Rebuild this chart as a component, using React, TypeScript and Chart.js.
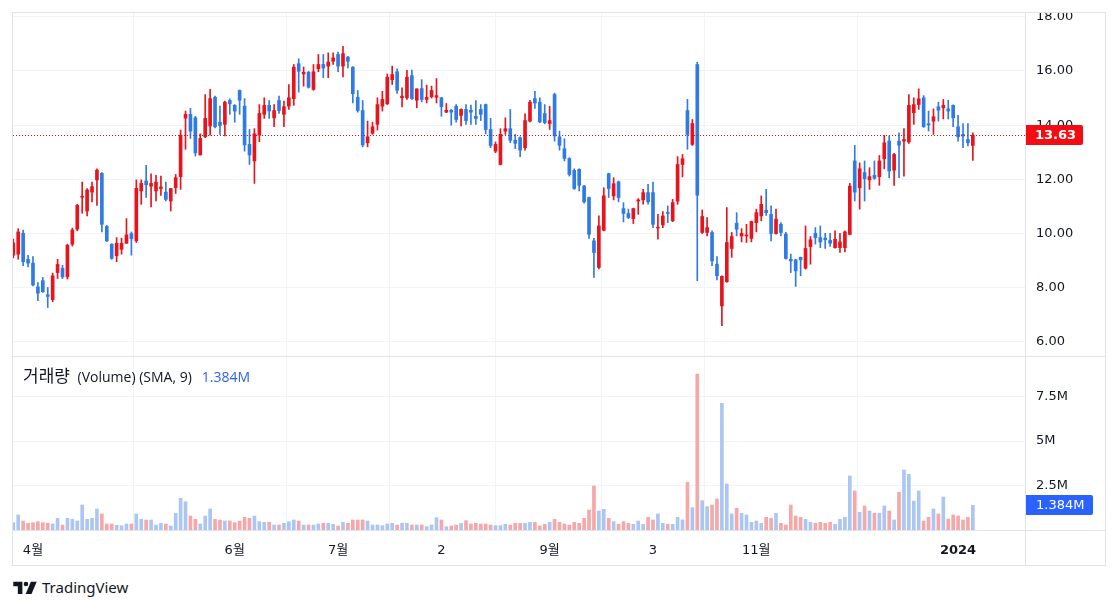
import React, { useEffect, useRef } from 'react';
import { Chart, registerables } from 'chart.js';

Chart.register(...registerables);

// ---- Data (daily candles) ----
const opens = [
  9.20, 9.24, 10.01, 9.05, 8.91, 8.03, 8.26, 7.74, 7.56, 8.56,
  8.72, 8.40, 9.61, 10.16, 11.34, 10.83, 11.53, 11.98, 12.22, 10.26,
  9.61, 9.18, 9.42, 9.64, 10.00, 9.73, 11.57, 11.94, 11.75, 11.57,
  11.66, 11.53, 11.20, 11.69, 12.10, 14.26, 14.40, 14.27, 12.90, 13.57,
  13.97, 15.03, 14.11, 14.03, 14.91, 14.73, 15.28, 14.70, 13.29, 12.68,
  13.63, 14.40, 14.73, 14.27, 14.91, 14.40, 14.70, 14.98, 16.27, 15.89,
  15.95, 15.32, 16.08, 16.24, 16.18, 16.36, 16.61, 16.18, 16.51, 16.14,
  15.03, 14.54, 13.35, 13.70, 14.03, 14.70, 14.79, 15.68, 15.97, 15.01,
  15.01, 15.83, 14.92, 15.35, 14.95, 15.05, 15.03, 15.01, 14.48, 14.55,
  14.70, 14.36, 14.58, 14.55, 14.33, 14.58, 14.76, 13.84, 13.04, 12.55,
  13.78, 13.87, 13.44, 13.54, 13.17, 14.15, 14.98, 14.85, 14.43, 14.06,
  15.13, 13.57, 13.13, 12.77, 12.33, 12.37, 11.75, 11.33, 9.73, 8.75,
  10.12, 12.21, 11.39, 11.91, 10.92, 10.74, 10.55, 11.20, 11.24, 11.51,
  11.51, 10.20, 10.32, 10.77, 10.47, 11.20, 12.55, 14.54, 13.29, 16.24,
  10.04, 10.04, 10.04, 8.87, 7.33, 8.22, 9.45, 10.38, 9.91, 9.91,
  9.82, 10.40, 10.65, 10.86, 10.71, 10.00, 10.34, 9.98, 9.05, 9.03,
  9.12, 8.72, 9.52, 10.01, 9.85, 9.83, 9.75, 9.48, 9.48, 9.48,
  9.97, 12.68, 11.69, 12.25, 11.98, 12.15, 12.10, 12.76, 13.41, 12.34,
  13.41, 13.41, 13.38, 14.46, 14.76, 15.01, 14.05, 14.15, 14.68, 14.64,
  14.60, 14.73, 13.94, 13.66, 13.47, 13.25,
];
const highs = [
  9.80, 10.18, 10.13, 9.20, 9.15, 8.19, 8.38, 8.01, 8.54, 9.05,
  8.83, 9.61, 10.20, 11.08, 11.90, 11.66, 11.90, 12.39, 12.25, 10.30,
  9.62, 9.85, 9.83, 10.55, 10.06, 11.98, 11.98, 12.52, 12.20, 12.15,
  12.12, 11.90, 11.66, 12.18, 13.82, 14.52, 14.62, 14.33, 13.68, 15.13,
  15.32, 15.07, 14.70, 14.89, 14.97, 14.76, 15.30, 14.98, 13.84, 13.87,
  14.76, 15.01, 14.91, 14.76, 15.07, 14.89, 15.50, 16.24, 16.45, 16.15,
  15.99, 16.24, 16.61, 16.61, 16.67, 16.67, 16.70, 16.91, 16.54, 16.16,
  15.28, 14.91, 14.15, 14.11, 15.01, 15.25, 15.89, 16.18, 16.08, 15.38,
  16.02, 16.03, 15.34, 15.68, 15.48, 15.44, 15.72, 15.03, 14.80, 14.58,
  14.76, 14.60, 14.76, 14.74, 14.91, 14.76, 14.78, 14.25, 13.38, 13.87,
  14.27, 14.58, 13.66, 13.57, 14.42, 14.92, 15.25, 15.01, 14.76, 14.70,
  15.18, 13.78, 13.50, 12.80, 12.39, 12.39, 11.78, 11.35, 9.82, 10.65,
  11.69, 12.23, 12.06, 11.94, 11.14, 10.90, 10.94, 11.29, 11.63, 11.82,
  11.90, 10.71, 10.81, 11.02, 11.26, 12.84, 12.92, 14.95, 14.21, 16.32,
  10.87, 10.59, 10.10, 9.15, 8.44, 10.96, 10.04, 10.77, 10.18, 10.34,
  10.46, 10.90, 11.39, 11.63, 11.02, 10.90, 10.40, 10.04, 9.24, 9.05,
  9.13, 10.28, 9.89, 10.22, 10.28, 10.01, 10.01, 10.10, 10.01, 10.10,
  11.85, 13.25, 12.61, 12.68, 12.43, 12.68, 12.88, 13.62, 13.60, 12.96,
  13.72, 13.87, 15.13, 15.01, 15.34, 15.09, 14.52, 14.60, 14.85, 14.95,
  14.92, 14.75, 14.36, 14.06, 14.06, 13.72,
];
const lows = [
  9.10, 9.05, 8.81, 8.77, 8.07, 7.52, 7.83, 7.27, 7.48, 8.34,
  8.34, 8.32, 9.54, 10.10, 10.75, 10.65, 11.17, 11.04, 10.06, 9.70,
  9.05, 8.96, 9.24, 9.64, 9.20, 9.67, 11.08, 11.33, 10.98, 11.20,
  11.41, 11.20, 10.83, 11.48, 11.63, 13.11, 13.51, 12.86, 12.90, 13.54,
  13.63, 13.90, 13.66, 13.60, 14.40, 14.11, 14.40, 13.04, 12.55, 11.85,
  13.39, 14.25, 14.25, 13.94, 14.43, 13.94, 14.58, 14.73, 15.22, 15.44,
  15.37, 15.29, 15.97, 15.75, 15.75, 16.24, 15.97, 15.78, 16.11, 14.82,
  14.48, 13.20, 13.20, 13.66, 13.82, 14.52, 14.76, 15.50, 15.17, 14.67,
  14.95, 14.95, 14.64, 14.86, 14.82, 15.00, 14.82, 14.33, 14.46, 14.00,
  14.11, 13.97, 14.03, 14.03, 14.03, 14.17, 13.68, 13.17, 12.98, 12.53,
  13.66, 13.35, 13.13, 12.84, 13.08, 14.12, 14.62, 14.09, 14.05, 13.84,
  13.41, 13.08, 12.68, 12.12, 11.63, 11.57, 11.12, 9.82, 8.38, 8.69,
  10.10, 11.33, 11.24, 11.17, 10.43, 10.55, 10.37, 10.71, 11.08, 11.08,
  10.22, 9.79, 10.22, 10.40, 10.44, 11.08, 12.09, 13.11, 13.25, 8.26,
  10.00, 9.91, 8.81, 8.29, 6.60, 8.20, 9.12, 9.91, 9.69, 9.67,
  9.69, 10.06, 10.47, 10.67, 9.73, 9.98, 9.91, 9.05, 8.56, 8.05,
  8.44, 8.69, 8.87, 9.61, 9.48, 9.45, 9.52, 9.46, 9.30, 9.32,
  9.95, 11.20, 10.90, 11.20, 11.63, 12.00, 11.78, 12.39, 12.06, 11.78,
  12.06, 12.12, 13.33, 14.03, 14.58, 13.92, 13.78, 13.66, 14.15, 14.23,
  14.23, 13.94, 13.41, 13.17, 13.23, 12.70,
];
const closes = [
  9.65, 10.06, 8.96, 8.91, 8.10, 7.80, 7.85, 7.68, 8.44, 8.86,
  8.40, 9.57, 10.13, 11.04, 11.36, 11.61, 11.73, 12.34, 10.34, 9.73,
  9.08, 9.64, 9.64, 9.95, 9.81, 11.67, 11.85, 11.80, 11.85, 11.90,
  11.72, 11.26, 11.66, 12.06, 13.63, 14.40, 13.78, 12.98, 13.51, 14.25,
  14.98, 13.94, 13.99, 14.85, 14.79, 14.52, 14.92, 13.27, 12.90, 13.68,
  14.43, 14.73, 14.52, 14.54, 14.54, 14.68, 15.01, 16.14, 15.99, 15.95,
  15.40, 15.97, 16.24, 16.11, 16.33, 16.48, 16.18, 16.64, 16.36, 15.16,
  14.54, 13.27, 13.57, 13.94, 14.76, 14.95, 15.77, 15.87, 15.29, 15.07,
  15.77, 14.98, 15.34, 14.95, 15.03, 15.28, 15.09, 14.68, 14.55, 14.48,
  14.21, 14.58, 14.17, 14.48, 14.25, 14.40, 13.84, 13.25, 13.29, 13.66,
  13.87, 13.44, 13.33, 13.08, 14.17, 14.85, 14.82, 14.12, 14.09, 14.17,
  13.60, 13.26, 12.77, 12.18, 11.66, 11.78, 11.17, 9.97, 9.30, 10.28,
  11.39, 11.66, 11.84, 11.33, 10.74, 10.59, 10.92, 11.24, 11.51, 11.17,
  10.34, 10.22, 10.65, 10.74, 11.14, 12.55, 12.76, 13.66, 14.06, 11.42,
  10.63, 10.22, 8.99, 8.44, 8.42, 9.67, 9.89, 10.16, 10.01, 9.94,
  10.44, 10.77, 11.08, 10.77, 10.00, 10.53, 10.04, 9.08, 8.99, 8.62,
  9.03, 9.45, 9.77, 9.85, 9.69, 9.77, 9.64, 9.79, 9.69, 10.06,
  11.75, 11.53, 12.39, 12.02, 12.10, 12.04, 12.68, 13.35, 12.31, 12.92,
  13.26, 13.47, 14.73, 14.76, 14.97, 13.94, 14.01, 14.31, 14.55, 14.73,
  14.52, 14.27, 13.57, 13.60, 13.35, 13.63,
];
// volume in thousands of shares
const volumesK = [
  412, 843, 506, 375, 412, 468, 412, 375, 337, 656,
  281, 656, 599, 506, 1405, 599, 656, 1180, 899, 337,
  337, 262, 243, 337, 337, 899, 599, 562, 562, 281,
  375, 337, 225, 937, 1779, 1592, 787, 599, 337, 787,
  1180, 599, 562, 506, 506, 412, 506, 712, 656, 787,
  468, 431, 431, 281, 281, 375, 468, 562, 506, 281,
  281, 281, 337, 375, 375, 318, 225, 431, 375, 562,
  562, 562, 506, 281, 281, 243, 337, 375, 281, 375,
  375, 281, 281, 281, 187, 281, 693, 562, 187, 225,
  281, 375, 524, 337, 375, 337, 337, 281, 243, 243,
  318, 281, 375, 375, 375, 431, 431, 225, 318, 431,
  599, 431, 337, 281, 431, 375, 656, 1124, 2472, 1068,
  1161, 656, 468, 318, 468, 375, 318, 506, 318, 712,
  562, 899, 375, 318, 318, 712, 562, 2678, 1255, 8766,
  1648, 1311, 1405, 1742, 7117, 2585, 899, 1217, 937, 843,
  431, 506, 375, 712, 656, 937, 375, 281, 1405, 787,
  712, 599, 431, 375, 431, 375, 431, 318, 599, 712,
  3034, 2191, 993, 1349, 1068, 937, 937, 1349, 1068, 562,
  2116, 3371, 3128, 1629, 2191, 506, 712, 1180, 899, 1854,
  618, 843, 787, 562, 712, 1384,
];
const timeTickIndex = [4, 45, 66, 87, 109, 130, 151, 192];
const timeTickLabels = ['4월', '6월', '7월', '2', '9월', '3', '11월', '2024'];
const priceTicks = [6, 8, 10, 12, 14, 16, 18];
const volumeTicks = [2500000, 5000000, 7500000];
const volumeTickLabels = ['2.5M', '5M', '7.5M'];
const lastVolumeText = '1.384M';
const legendName = '거래량';
const legendRest = '(Volume) (SMA, 9)';

// ---- Styles ----
const FONT = "'DejaVu Sans', 'Noto Sans CJK KR', sans-serif";
const LEGEND_FONT = "'Open Sans', 'Noto Sans CJK KR', sans-serif";
const UP = '#e8141c';
const DOWN = '#2f7ae6';
const UP_VOL = '#abc6f2';
const DOWN_VOL = '#f5a8a7';
const GRID = '#f0f3fa';
const BORDER = '#e0e3eb';
const TEXT = '#131722';
const X_MIN = -0.06;
const X_MAX = 205.6;
const AXIS_W = 81;

export default function App() {
  const priceRef = useRef<HTMLCanvasElement | null>(null);
  const volRef = useRef<HTMLCanvasElement | null>(null);

  useEffect(() => {
    const n = opens.length;
    const idx = Array.from({ length: n }, (_, i) => i);
    const up = idx.map((i) => closes[i] >= opens[i]);
    const candleColors = idx.map((i) => (up[i] ? UP : DOWN));
    const volColors = idx.map((i) => (up[i] ? UP_VOL : DOWN_VOL));
    const lastClose = closes[n - 1];
    const lastVol = volumesK[n - 1] * 1000;

    const xScaleBase = (showLabels: boolean) => ({
      type: 'linear' as const,
      min: X_MIN,
      max: X_MAX,
      offset: false,
      bounds: 'data' as const,
      afterBuildTicks: (s: any) => {
        s.ticks = timeTickIndex.map((v) => ({ value: v }));
      },
      grid: { color: GRID, drawTicks: false, lineWidth: 1 },
      border: { display: false },
      ticks: {
        display: showLabels,
        autoSkip: false,
        maxRotation: 0,
        padding: 13,
        color: TEXT,
        font: (ctx: any) => ({
          family: FONT,
          size: 13,
          weight: ctx.tick && ctx.tick.label === '2024' ? 'bold' : 'normal',
        }),
        callback: (v: any) => {
          const k = timeTickIndex.indexOf(Number(v));
          return k >= 0 ? timeTickLabels[k] : '';
        },
      },
      afterFit: (s: any) => {
        s.height = showLabels ? 35 : 0;
        s.paddingLeft = 0;
        s.paddingRight = 0;
      },
    });

    const fitY = (s: any) => {
      s.width = AXIS_W;
      s.paddingTop = 0;
      s.paddingBottom = 0;
    };

    const lastPricePlugin = {
      id: 'lastPrice',
      afterDatasetsDraw(chart: any) {
        const { ctx, chartArea, scales } = chart;
        const y = Math.round(scales.y.getPixelForValue(lastClose)) + 0.5;
        ctx.save();
        ctx.strokeStyle = '#d41018';
        ctx.lineWidth = 1;
        ctx.setLineDash([1, 2]);
        ctx.beginPath();
        ctx.moveTo(chartArea.left, y);
        ctx.lineTo(chartArea.right, y);
        ctx.stroke();
        ctx.restore();
      },
      afterDraw(chart: any) {
        const { ctx, chartArea, scales } = chart;
        const y = Math.round(scales.y.getPixelForValue(lastClose));
        ctx.save();
        ctx.fillStyle = '#f20d12';
        const x0 = chartArea.right;
        ctx.beginPath();
        ctx.roundRect(x0, y - 10, 58, 20, [0, 2, 2, 0]);
        ctx.fill();
        ctx.fillStyle = '#ffffff';
        ctx.font = `bold 13px ${FONT}`;
        ctx.textBaseline = 'middle';
        ctx.textAlign = 'left';
        ctx.fillText(lastClose.toFixed(2), x0 + 10, y + 0.5);
        ctx.restore();
      },
    };

    const lastVolPlugin = {
      id: 'lastVol',
      afterDraw(chart: any) {
        const { ctx, chartArea, scales } = chart;
        const y = Math.round(scales.y.getPixelForValue(lastVol));
        ctx.save();
        ctx.fillStyle = '#2962ff';
        const x0 = chartArea.right;
        ctx.beginPath();
        ctx.roundRect(x0, y - 10, 68, 20, [0, 2, 2, 0]);
        ctx.fill();
        ctx.fillStyle = '#ffffff';
        ctx.font = `13px ${FONT}`;
        ctx.textBaseline = 'middle';
        ctx.textAlign = 'left';
        ctx.fillText(lastVolumeText, x0 + 11, y + 0.5);
        ctx.restore();
      },
    };

    const priceChart = new Chart(priceRef.current as HTMLCanvasElement, {
      type: 'bar',
      data: {
        datasets: [
          {
            label: 'wick',
            data: idx.map((i) => ({ x: i, y: [lows[i], highs[i]] })) as any,
            backgroundColor: candleColors,
            barThickness: 1,
            grouped: false,
            order: 2,
          } as any,
          {
            label: 'body',
            data: idx.map((i) => ({
              x: i,
              y: [Math.min(opens[i], closes[i]), Math.max(opens[i], closes[i])],
            })) as any,
            backgroundColor: candleColors,
            barThickness: 3,
            minBarLength: 1,
            grouped: false,
            order: 1,
          } as any,
        ],
      },
      options: {
        animation: false,
        responsive: false,
        maintainAspectRatio: false,
        layout: { autoPadding: false, padding: { left: 1, top: 1, right: 0, bottom: 0 } },
        plugins: { legend: { display: false }, tooltip: { enabled: false } },
        scales: {
          x: xScaleBase(false) as any,
          y: {
            type: 'linear',
            position: 'right',
            min: 5.48,
            max: 18.14,
            bounds: 'data',
            afterBuildTicks: (s: any) => {
              s.ticks = priceTicks.map((v) => ({ value: v }));
            },
            grid: { color: GRID, drawTicks: false },
            border: { display: true, color: BORDER },
            ticks: {
              padding: 11,
              color: TEXT,
              font: { family: FONT, size: 13 },
              callback: (v: any) => Number(v).toFixed(2),
            },
            afterFit: fitY,
          } as any,
        },
      } as any,
      plugins: [lastPricePlugin],
    });

    const volChart = new Chart(volRef.current as HTMLCanvasElement, {
      type: 'bar',
      data: {
        datasets: [
          {
            label: 'volume',
            data: idx.map((i) => ({ x: i, y: volumesK[i] * 1000 })) as any,
            backgroundColor: volColors,
            barThickness: 3,
            grouped: false,
          } as any,
        ],
      },
      options: {
        animation: false,
        responsive: false,
        maintainAspectRatio: false,
        layout: { autoPadding: false, padding: { left: 1, top: 0, right: 0, bottom: 0 } },
        plugins: { legend: { display: false }, tooltip: { enabled: false } },
        scales: {
          x: xScaleBase(true) as any,
          y: {
            type: 'linear',
            position: 'right',
            min: 0,
            max: 9720000,
            bounds: 'data',
            afterBuildTicks: (s: any) => {
              s.ticks = volumeTicks.map((v) => ({ value: v }));
            },
            grid: { color: GRID, drawTicks: false },
            border: { display: true, color: BORDER },
            ticks: {
              padding: 11,
              color: TEXT,
              font: { family: FONT, size: 13 },
              callback: (v: any) => {
                const k = volumeTicks.indexOf(Number(v));
                return k >= 0 ? volumeTickLabels[k] : '';
              },
            },
            afterFit: fitY,
          } as any,
        },
      } as any,
      plugins: [lastVolPlugin],
    });

    return () => {
      priceChart.destroy();
      volChart.destroy();
    };
  }, []);

  const line = (style: React.CSSProperties): React.CSSProperties => ({
    position: 'absolute',
    background: BORDER,
    pointerEvents: 'none',
    ...style,
  });

  return (
    <div
      style={{
        position: 'absolute',
        left: 0,
        top: 0,
        width: 1118,
        height: 609,
        background: '#ffffff',
        overflow: 'hidden',
        fontFamily: FONT,
      }}
    >
      <canvas
        ref={priceRef}
        width={1094}
        height={344}
        style={{ position: 'absolute', left: 12, top: 12, width: 1094, height: 344 }}
      />
      <canvas
        ref={volRef}
        width={1094}
        height={208}
        style={{ position: 'absolute', left: 12, top: 357, width: 1094, height: 208 }}
      />
      {/* frame & separators */}
      <div
        style={{
          position: 'absolute',
          left: 12,
          top: 12,
          width: 1094,
          height: 554,
          border: `1px solid ${BORDER}`,
          boxSizing: 'border-box',
          pointerEvents: 'none',
        }}
      />
      <div style={line({ left: 12, top: 356, width: 1094, height: 1 })} />
      <div style={line({ left: 12, top: 530, width: 1094, height: 1 })} />
      <div style={line({ left: 1025, top: 12, width: 1, height: 554 })} />
      {/* volume legend */}
      <div
        style={{
          position: 'absolute',
          left: 23,
          top: 366,
          fontFamily: LEGEND_FONT,
          fontSize: 14,
          lineHeight: '20px',
          color: TEXT,
          whiteSpace: 'nowrap',
        }}
      >
        <span style={{ fontSize: 17, marginRight: 4 }}>{legendName}</span>
        <span> {legendRest}</span>
        <span style={{ color: '#2962ff', marginLeft: 10 }}>{lastVolumeText}</span>
      </div>
      {/* TradingView attribution */}
      <div
        style={{
          position: 'absolute',
          left: 13,
          top: 577,
          height: 20,
          display: 'flex',
          alignItems: 'center',
          color: TEXT,
          fontFamily: "'Noto Sans', sans-serif",
          fontSize: 15,
        }}
      >
        <svg width="24" height="13" viewBox="0 0 36 20" style={{ marginRight: 5 }}>
          <path d="M14 20H7V8H0V1h14z" fill="#131722" />
          <circle cx="19.5" cy="4.5" r="3.5" fill="#131722" />
          <path d="M27 1h9l-8 19h-9z" fill="#131722" />
        </svg>
        <span>TradingView</span>
      </div>
    </div>
  );
}
